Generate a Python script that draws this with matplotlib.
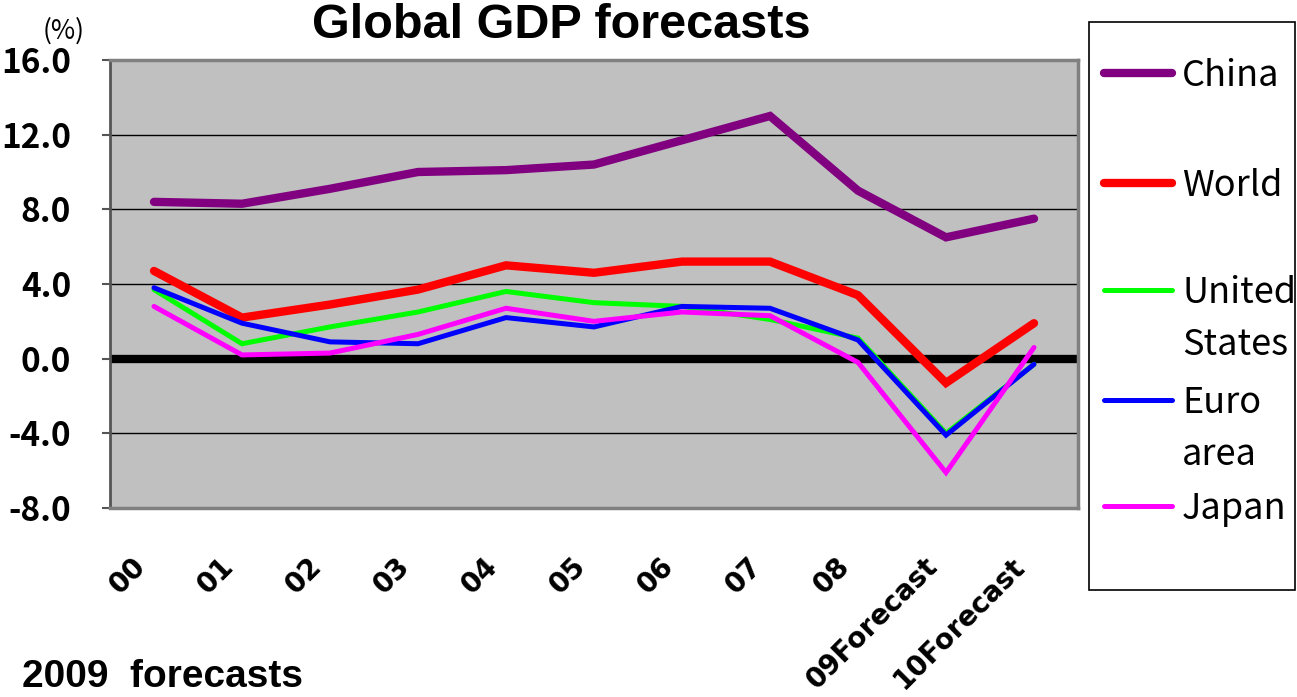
import matplotlib.pyplot as plt
from matplotlib.lines import Line2D
from matplotlib.patches import Rectangle
import matplotlib.transforms as mtransforms

# Real GDP growth (%), 2000-2008 actual, 2009/2010 forecasts
years = ["00", "01", "02", "03", "04", "05", "06", "07", "08", "09Forecast", "10Forecast"]
china = [8.4, 8.3, 9.1, 10.0, 10.1, 10.4, 11.7, 13.0, 9.0, 6.5, 7.5]
world = [4.7, 2.2, 2.9, 3.7, 5.0, 4.6, 5.2, 5.2, 3.4, -1.3, 1.9]
united_states = [3.7, 0.8, 1.7, 2.5, 3.6, 3.0, 2.8, 2.1, 1.1, -4.0, -0.3]
euro_area = [3.8, 1.9, 0.9, 0.8, 2.2, 1.7, 2.8, 2.7, 1.0, -4.1, -0.3]
japan = [2.8, 0.2, 0.3, 1.3, 2.7, 2.0, 2.5, 2.3, -0.2, -6.1, 0.6]

series = [
    ("China", china, "#800080", 6.0),
    ("World", world, "#FF0000", 6.0),
    ("United\nStates", united_states, "#00FF00", 3.6),
    ("Euro\narea", euro_area, "#0000FF", 3.6),
    ("Japan", japan, "#FF00FF", 3.6),
]
yticks = [-8, -4, 0, 4, 8, 12, 16]

W, H = 1297, 697
fig = plt.figure(figsize=(W / 100, H / 100), dpi=100)
ax = fig.add_axes([110 / W, 1 - 508 / H, 968 / W, 448 / H])
ax.set_facecolor("#C0C0C0")

x = list(range(len(years)))
for y in [-4, 4, 8, 12]:
    ax.axhline(y, color="black", lw=1.0, zorder=1)
ax.axhline(0, color="black", lw=6, zorder=1.5, solid_capstyle="round")

for name, vals, color, lw in series:
    ax.plot(x, vals, color=color, lw=lw, zorder=2,
            solid_capstyle="round", solid_joinstyle="miter")

gothic = ["Noto Sans CJK JP", "DejaVu Sans"]

ax.set_xlim(-0.5, len(years) - 0.5)
ax.set_ylim(-8, 16)
ax.set_yticks(yticks)
ax.set_yticklabels([f"{v:.1f}" for v in yticks], fontsize=24,
                   family=gothic, fontweight="bold")
ax.tick_params(axis="y", length=6, width=1.5, color="#555555", pad=22)

ax.set_xticks(x)
ax.set_xticklabels(years, rotation=45, ha="right", va="center",
                   rotation_mode="anchor", fontsize=20, fontweight="bold",
                   family="DejaVu Sans")
ax.tick_params(axis="x", length=0, pad=39)
shift = mtransforms.ScaledTranslation(-0.13, 0, fig.dpi_scale_trans)
for lbl in ax.get_xticklabels():
    lbl.set_transform(lbl.get_transform() + shift)

ax.spines["left"].set_color("#555555")
ax.spines["left"].set_linewidth(2)
for s in ["top", "bottom", "right"]:
    ax.spines[s].set_color("#808080")
    ax.spines[s].set_linewidth(2.5)

# Titles and notes
fig.text(561 / W, 1 - 26 / H, "Global GDP forecasts", ha="center", va="center",
         fontsize=35, fontweight="bold", family="Liberation Sans")
fig.text(64 / W, 1 - 31 / H, "(%)", ha="center", va="center", fontsize=19,
         family=gothic)
fig.text(22 / W, 1 - 677 / H, "2009  forecasts", ha="left", va="center",
         fontsize=28, fontweight="bold", family="Liberation Sans")

# Legend box drawn on the figure
fig.patches.append(Rectangle((1089 / W, 1 - 590 / H), 206 / W, 568 / H,
                             transform=fig.transFigure, facecolor="white",
                             edgecolor="black", lw=1.2))
handle_y = [73, 183, 290, 400, 506]
for (name, vals, color, lw), hy in zip(series, handle_y):
    fig.lines.append(Line2D([1104 / W, 1172 / W], [1 - hy / H, 1 - hy / H],
                            transform=fig.transFigure, color=color, lw=lw,
                            solid_capstyle="round"))
    for i, line in enumerate(name.split("\n")):
        fig.text(1182 / W, 1 - (hy + 3 + 52 * i) / H, line, ha="left",
                 va="center", fontsize=26, family=gothic)

fig.savefig("out.png", dpi=100)
